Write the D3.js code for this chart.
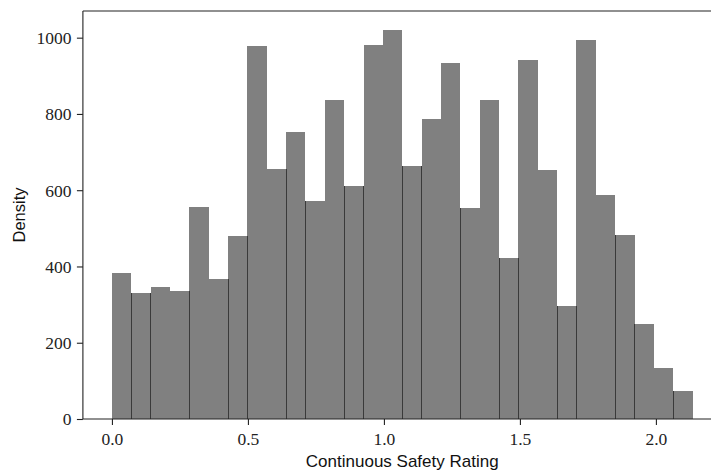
<!DOCTYPE html>
<html>
<head>
<meta charset="utf-8">
<script src="https://cdn.jsdelivr.net/npm/d3@7"></script>
<style>
  html, body { margin: 0; padding: 0; background: #fff; }
  svg { display: block; }
</style>
</head>
<body>
<svg id="chart" width="711" height="470"></svg>
<script>
// ---- data (histogram of Continuous Safety Rating) ----
const binStart = 0.0;
const binEnd = 2.1348;
const densities = [382, 330, 346, 335, 555, 367, 479, 977, 655, 752,
                   571, 836, 610, 982, 1019, 663, 786, 933, 553, 836,
                   422, 941, 652, 296, 993, 587, 482, 249, 134, 73];
const xTickValues = [0.0, 0.5, 1.0, 1.5, 2.0];
const xTickLabels = ["0.0", "0.5", "1.0", "1.5", "2.0"];
const yTickValues = [0, 200, 400, 600, 800, 1000];
const yTickLabels = ["0", "200", "400", "600", "800", "1000"];
const xLabel = "Continuous Safety Rating";
const yLabel = "Density";

// ---- layout ----
const SERIF = '"Liberation Serif", "Times New Roman", serif';
const SANS = '"Liberation Sans", Arial, sans-serif';
const svg = d3.select("#chart");
const nBins = densities.length;
const binW = (binEnd - binStart) / nBins;
const xMargin = (binEnd - binStart) * 0.05;
const yMax = d3.max(densities) * 1.05;

const plotL = 82.9, plotR = 721.6, plotT = 11, plotB = 419;
const x = d3.scaleLinear().domain([binStart - xMargin, binEnd + xMargin]).range([plotL, plotR]);
const y = d3.scaleLinear().domain([0, yMax]).range([plotB, plotT]);

const bins = densities.map((d, i) => ({ x0: binStart + i * binW, x1: binStart + (i + 1) * binW, v: d }));

// bars
svg.append("g").attr("shape-rendering", "crispEdges")
  .selectAll("rect").data(bins).join("rect")
  .attr("x", d => x(d.x0))
  .attr("width", d => x(d.x1) - x(d.x0))
  .attr("y", d => y(d.v))
  .attr("height", d => y(0) - y(d.v))
  .attr("fill", "#808080");

// seams between adjacent bars (appear only where they land on a pixel cleanly)
const seams = bins.slice(1).map((d, i) => ({ px: x(d.x0), h: Math.min(d.v, bins[i].v) }))
  .filter(s => (s.px - Math.floor(s.px)) < 0.66);
svg.append("g").attr("shape-rendering", "crispEdges")
  .selectAll("rect").data(seams).join("rect")
  .attr("x", s => Math.floor(s.px))
  .attr("width", 1)
  .attr("y", s => y(s.h))
  .attr("height", s => y(0) - y(s.h))
  .attr("fill", "#3a3a3a");

// spines
const spineColor = "#222";
svg.append("line").attr("x1", plotL).attr("x2", plotL).attr("y1", plotT).attr("y2", plotB)
  .attr("stroke", spineColor).attr("stroke-width", 1.1);
svg.append("line").attr("x1", plotL).attr("x2", plotR).attr("y1", plotB).attr("y2", plotB)
  .attr("stroke", spineColor).attr("stroke-width", 1.1);
svg.append("line").attr("x1", plotL).attr("x2", plotR).attr("y1", plotT).attr("y2", plotT)
  .attr("stroke", spineColor).attr("stroke-width", 1.1);
svg.append("line").attr("x1", plotR).attr("x2", plotR).attr("y1", plotT).attr("y2", plotB)
  .attr("stroke", spineColor).attr("stroke-width", 1.1);

// x axis
const xAxis = d3.axisBottom(x).tickValues(xTickValues)
  .tickFormat((d, i) => xTickLabels[i]).tickSize(6).tickPadding(8);
const gx = svg.append("g").attr("transform", `translate(0,${plotB})`).call(xAxis);
gx.select(".domain").remove();
gx.selectAll(".tick line").attr("stroke", spineColor).attr("stroke-width", 1.1);
gx.selectAll(".tick text")
  .style("font-family", SERIF)
  .style("font-size", "17.5px").attr("fill", "#222")
  .attr("dy", null).attr("y", 25.5);

// y axis
const yAxis = d3.axisLeft(y).tickValues(yTickValues)
  .tickFormat((d, i) => yTickLabels[i]).tickSize(6).tickPadding(5.5);
const gy = svg.append("g").attr("transform", `translate(${plotL},0)`).call(yAxis);
gy.select(".domain").remove();
gy.selectAll(".tick line").attr("stroke", spineColor).attr("stroke-width", 1.1);
gy.selectAll(".tick text")
  .style("font-family", SERIF)
  .style("font-size", "17.5px").attr("fill", "#222")
  .attr("dy", null).attr("y", 5.9);

// axis labels
svg.append("text")
  .attr("x", (plotL + plotR) / 2).attr("y", 467)
  .attr("text-anchor", "middle")
  .style("font-family", SANS)
  .style("font-size", "17px").attr("fill", "#111")
  .text(xLabel);

svg.append("text")
  .attr("transform", `translate(25,${(plotT + plotB) / 2}) rotate(-90)`)
  .attr("text-anchor", "middle")
  .style("font-family", SANS)
  .style("font-size", "16.5px").attr("fill", "#111")
  .text(yLabel);
</script>
</body>
</html>
